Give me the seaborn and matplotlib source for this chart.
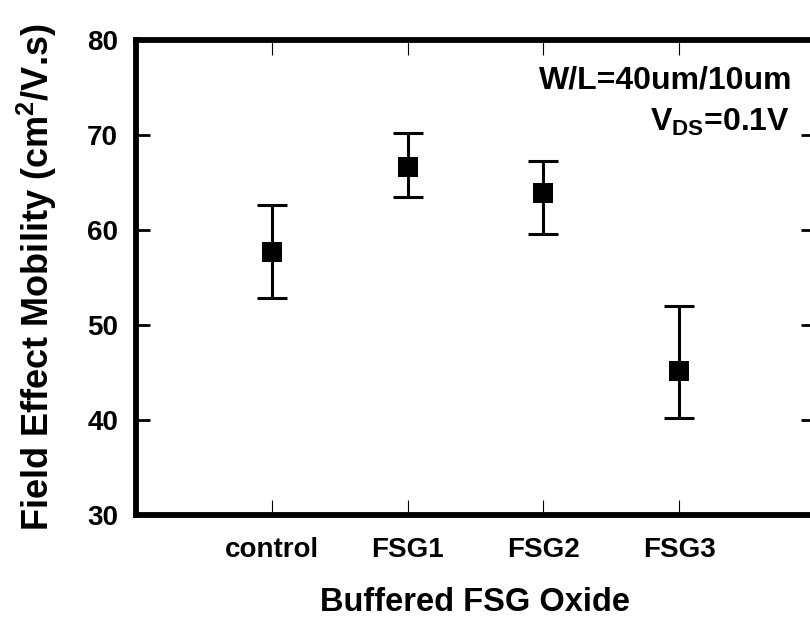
import matplotlib
matplotlib.use("Agg")
import matplotlib.pyplot as plt
import seaborn as sns
import pandas as pd

categories = ["control", "FSG1", "FSG2", "FSG3"]
mobility = [57.7, 66.7, 63.9, 45.2]
err_low = [52.9, 63.5, 59.6, 40.2]
err_high = [62.7, 70.2, 67.3, 52.0]
yticks = [30, 40, 50, 60, 70, 80]

sns.set_theme(style="white")
plt.rcParams["font.family"] = ["Liberation Sans", "DejaVu Sans"]
plt.rcParams["font.weight"] = "bold"
plt.rcParams["text.color"] = "black"
plt.rcParams["axes.labelcolor"] = "black"
plt.rcParams["xtick.color"] = "black"
plt.rcParams["ytick.color"] = "black"
plt.rcParams["mathtext.fontset"] = "custom"
plt.rcParams["mathtext.rm"] = "Liberation Sans:bold"
plt.rcParams["mathtext.bf"] = "Liberation Sans:bold"
plt.rcParams["mathtext.it"] = "Liberation Sans:bold"

df = pd.DataFrame({"cat": categories, "mob": mobility,
                   "lo": err_low, "hi": err_high})

fig = plt.figure(figsize=(8.1, 6.19), dpi=100)
ax = fig.add_axes([0.168, 0.168, 0.838, 0.767])

yerr = [[m - l for m, l in zip(df["mob"], df["lo"])],
        [h - m for m, h in zip(df["mob"], df["hi"])]]
ax.errorbar(df["cat"], df["mob"], yerr=yerr, fmt="none", ecolor="black",
            elinewidth=2.2, capsize=11, capthick=2.2, zorder=2)
sns.scatterplot(data=df, x="cat", y="mob", marker="s", s=15**2, color="black",
                edgecolor="black", linewidth=0, ax=ax, zorder=3, legend=False)

ax.set_xlim(-1, 4)
ax.set_ylim(30, 80)
ax.set_yticks(yticks)
ax.set_xticks(range(len(categories)))
ax.set_xticklabels(categories)

for sp in ax.spines.values():
    sp.set_linewidth(4.2)
    sp.set_color("black")

ax.tick_params(axis="y", direction="in", length=10, width=2, left=True, right=True,
               labelsize=20, pad=13)
ax.tick_params(axis="x", direction="in", length=11, width=0.8, bottom=True, top=True,
               labelsize=20, pad=16)
for lab in ax.get_xticklabels() + ax.get_yticklabels():
    lab.set_fontweight("bold")

ax.set_xlabel("Buffered FSG Oxide", fontsize=23.5, fontweight="bold", labelpad=17)
ax.set_ylabel("Field Effect Mobility (cm$^\\mathbf{2}$/V.s)", fontsize=26,
              fontweight="bold", labelpad=20)

ax.text(0.9676, 0.899, "W/L=40um/10um", transform=ax.transAxes, ha="right",
        va="baseline", fontsize=23, fontweight="bold")
ax.text(0.963, 0.81, "V$_\\mathbf{DS}$=0.1V", transform=ax.transAxes, ha="right",
        va="baseline", fontsize=23, fontweight="bold")

fig.savefig("out.png", dpi=100, facecolor="white")
